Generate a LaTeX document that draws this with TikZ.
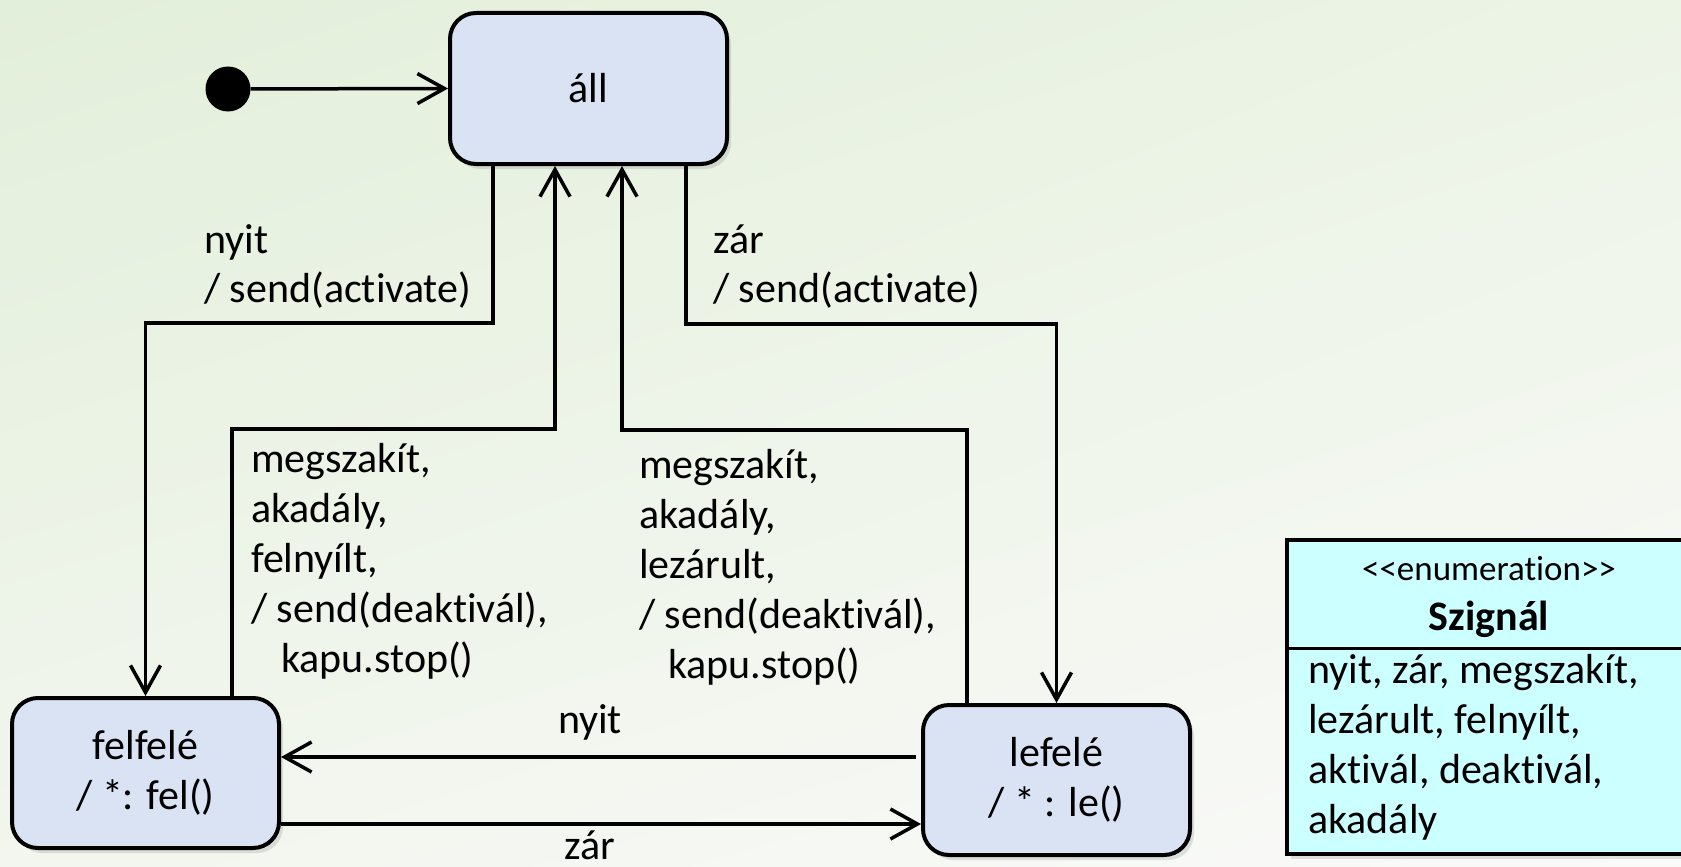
\documentclass[tikz,border=0pt]{standalone}
\usepackage{fontspec}
\setmainfont{Carlito}[Ligatures={TeX,NoCommon}]
\usetikzlibrary{arrows.meta,shadows,shadings}
\definecolor{statefill}{RGB}{218,227,243}
\definecolor{enumfill}{RGB}{204,255,255}
\definecolor{bgA}{RGB}{226,239,218}
\definecolor{bgB}{RGB}{236,244,230}
\definecolor{bgC}{RGB}{242,246,238}
\definecolor{bgD}{RGB}{250,250,249}
\tikzset{
  statebox/.style={draw, line width=4pt, rounded corners=26pt, fill=statefill,
    minimum width=267pt, minimum height=150pt, align=center,
    font=\fontsize{42}{50}\selectfont,
    drop shadow={opacity=0.22, shadow xshift=4pt, shadow yshift=-5pt}},
  conn/.style={line width=3.5pt, -{Straight Barb[length=27pt,width=30pt,line width=3.5pt]}},
  lbl/.style={inner sep=0pt, anchor=base west, font=\fontsize{42}{50}\selectfont},
  lblc/.style={inner sep=0pt, anchor=base, font=\fontsize{42}{50}\selectfont},
}
\begin{document}
\begin{tikzpicture}[x=1pt,y=-1pt]
\useasboundingbox (0,0) rectangle (1681,867);
\clip (0,0) rectangle (1681,867);
\shade[upper left=bgA, upper right=bgB, lower left=bgC, lower right=bgD] (0,0) rectangle (1681,867);

% states
\node[statebox, minimum width=277pt, minimum height=151pt] (all) at (588.5,88.5) {áll};
\node[statebox] (fel) at (145.5,773) {felfelé\\/ *: fel()};
\node[statebox] (le) at (1056.5,780) {lefelé\\/ * : le()};

% initial state
\node[circle, fill=black, minimum size=45pt, inner sep=0pt] (init) at (228,89) {};
\draw[conn] (init) -- (all.west);

% transitions
\draw[conn] ([xshift=-95.5pt]all.south) -- ++(0,-157pt) -| (fel.north);
\draw[conn] ([xshift=86.5pt]fel.north) -- ++(0,267pt) -| ([xshift=-33.5pt]all.south);
\draw[conn] ([xshift=-89.5pt]le.north) -- ++(0,273pt) -| ([xshift=33.5pt]all.south);
\draw[conn] ([xshift=97.5pt]all.south) -- ++(0,-158pt) -| (le.north);
\draw[conn] ([yshift=23pt,xshift=-5pt]le.west) coordinate (s5) -- (s5 -| fel.east);
\draw[conn] ([yshift=-51pt]fel.east) coordinate (s6) -- (s6 -| le.west);

% labels
\node[lbl] (l1a) at (204,253) {nyit};
\node[lbl] (l1b) at (204,302) {/ send(activate)};
\node[lbl] (l4a) at (713,253) {zár};
\node[lbl] (l4b) at (713,302) {/ send(activate)};

\node[lbl] (l2a) at (251,472) {megszakít,};
\node[lbl] (l2b) at (251,522) {akadály,};
\node[lbl] (l2c) at (251,572) {felnyílt,};
\node[lbl] (l2d) at (251,622) {/ send(deaktivál),};
\node[lbl] (l2e) at (281,672) {kapu.stop()};

\node[lbl] (l3a) at (639,478) {megszakít,};
\node[lbl] (l3b) at (639,528) {akadály,};
\node[lbl] (l3c) at (639,578) {lezárult,};
\node[lbl] (l3d) at (639,628) {/ send(deaktivál),};
\node[lbl] (l3e) at (668,678) {kapu.stop()};

\node[lblc] (l5) at (590,733) {nyit};
\node[lblc] (l6) at (590,859) {zár};

% enumeration
\node[draw, line width=4pt, fill=enumfill, minimum width=404pt, minimum height=314pt, inner sep=0pt,
  drop shadow={opacity=0.22, shadow xshift=4pt, shadow yshift=-5pt}] (enum) at (1489,697) {};
\draw[line width=3pt] (enum.west |- 0,648) -- (enum.east |- 0,648);
\node[lblc, font=\fontsize{35}{42}\selectfont] (e0) at (1489,580) {<\kern0pt<enumeration>\kern0pt>};
\node[lblc, font=\fontsize{42}{50}\selectfont\bfseries] (e1) at (1489,630) {Szignál};
\node[lbl] (e2) at (1308,683) {nyit, zár, megszakít,};
\node[lbl] (e3) at (1308,733) {lezárult, felnyílt,};
\node[lbl] (e4) at (1308,783) {aktivál, deaktivál,};
\node[lbl] (e5) at (1308,833) {akadály};
\end{tikzpicture}
\end{document}
